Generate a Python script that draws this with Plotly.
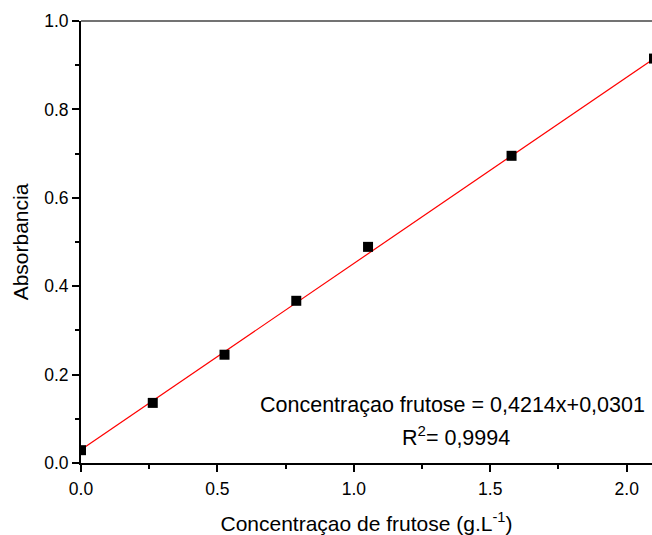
import plotly.graph_objects as go

# Data
conc = [0.0, 0.263, 0.526, 0.789, 1.052, 1.578, 2.1]
absorb = [0.029, 0.136, 0.245, 0.367, 0.489, 0.695, 0.915]
slope = 0.4214
intercept = 0.0301
fit_x = [0.0, 2.1]
fit_y = [slope * v + intercept for v in fit_x]

x_ticks = [0.0, 0.5, 1.0, 1.5, 2.0]
y_ticks = [0.0, 0.2, 0.4, 0.6, 0.8, 1.0]

FONT = "Liberation Sans, Arial, sans-serif"

fig = go.Figure()
fig.add_trace(go.Scatter(x=fit_x, y=fit_y, mode="lines",
                         line=dict(color="#ff0000", width=1.2),
                         showlegend=False, hoverinfo="skip"))
fig.add_trace(go.Scatter(x=conc, y=absorb, mode="markers",
                         marker=dict(symbol="square", size=10, color="black",
                                     line=dict(width=0)),
                         showlegend=False, cliponaxis=True))

fig.update_layout(
    width=652, height=535,
    margin=dict(l=81, r=0, t=21, b=72),
    plot_bgcolor="white", paper_bgcolor="white",
    font=dict(family=FONT, size=17, color="black"),
    xaxis=dict(range=[0, 2.0927], tickvals=x_ticks, tickformat=".1f",
               automargin=False,
               showgrid=False, zeroline=False,
               showline=True, linecolor="black", linewidth=2,
               ticks="outside", ticklen=7, tickwidth=2, tickcolor="black",
               ticklabelstandoff=2,
               minor=dict(dtick=0.25, ticks="outside", ticklen=4, tickwidth=2, tickcolor="black"),
               tickfont=dict(size=17.5),
               title=dict(text="Concentraçao de frutose (g.L<sup>-1</sup>)", font=dict(size=21), standoff=18)),
    yaxis=dict(range=[0, 1.0], tickvals=y_ticks, tickformat=".1f",
               automargin=False,
               showgrid=False, zeroline=False,
               showline=True, linecolor="black", linewidth=2,
               ticks="outside", ticklen=7, tickwidth=2, tickcolor="black",
               minor=dict(dtick=0.1, ticks="outside", ticklen=4, tickwidth=2, tickcolor="black"),
               tickfont=dict(size=17.5),
               title=dict(text="Absorbancia", font=dict(size=21), standoff=10)),
    shapes=[dict(type="line", xref="paper", yref="paper", x0=0, x1=1, y0=1, y1=1,
                 line=dict(color="#444444", width=1.5))],
    annotations=[
        dict(x=1.363, y=0.132, xref="x", yref="y", showarrow=False,
             text="Concentraçao frutose = 0,4214x+0,0301", font=dict(size=21.5),
             xanchor="center", yanchor="middle"),
        dict(x=1.374, y=0.06, xref="x", yref="y", showarrow=False,
             text="R<sup>2</sup>= 0,9994", font=dict(size=21.5),
             xanchor="center", yanchor="middle"),
    ],
)

fig.write_html("out.html", config={"displayModeBar": False},
               post_script="document.body.style.margin='0';document.body.style.overflow='hidden';")
